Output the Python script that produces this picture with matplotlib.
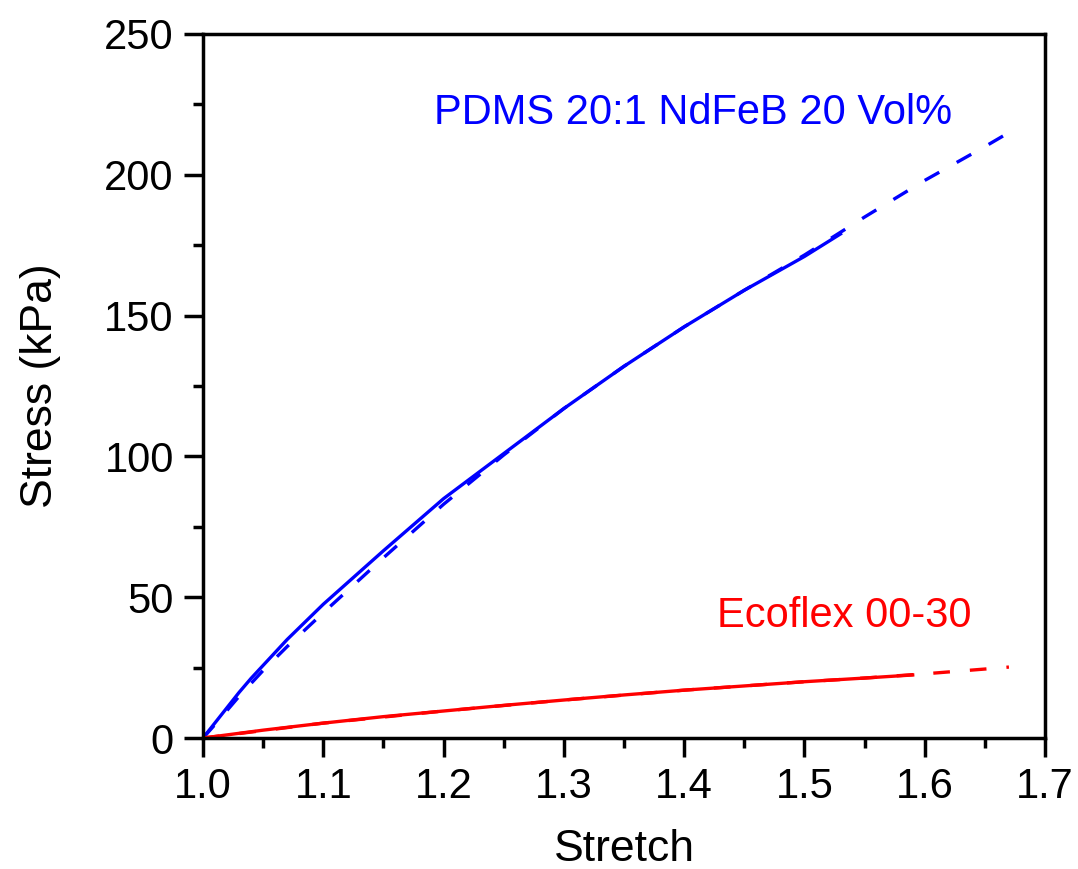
import matplotlib
matplotlib.use("Agg")
import matplotlib.pyplot as plt
import numpy as np

plt.rcParams['font.family'] = ['Liberation Sans', 'DejaVu Sans']

# PDMS 20:1 NdFeB 20 Vol% - experiment (solid)
pdms_x = [1.00, 1.01, 1.02, 1.03, 1.04, 1.05, 1.07, 1.10, 1.15, 1.20, 1.25, 1.30, 1.35, 1.40, 1.45, 1.50, 1.53]
pdms_y = [0.0, 5.4, 10.8, 16.2, 21.2, 25.8, 35.0, 47.5, 66.5, 85.0, 101.0, 117.0, 132.0, 146.0, 159.0, 171.0, 179.0]
# PDMS model (dashed)
pdms_fit_x = [1.00, 1.01, 1.02, 1.03, 1.05, 1.07, 1.10, 1.15, 1.20, 1.25, 1.30, 1.35, 1.40, 1.45, 1.50, 1.55, 1.60, 1.65, 1.67]
pdms_fit_y = [0.0, 4.8, 9.8, 14.8, 24.0, 32.5, 44.5, 64.0, 83.0, 100.5, 117.0, 132.0, 146.0, 159.0, 171.5, 185.0, 198.0, 210.0, 215.0]

# Ecoflex 00-30 - experiment (solid)
eco_x = [1.00, 1.05, 1.10, 1.15, 1.20, 1.25, 1.30, 1.35, 1.40, 1.45, 1.50, 1.55, 1.59]
eco_y = [0.0, 2.8, 5.3, 7.6, 9.6, 11.6, 13.5, 15.3, 17.0, 18.5, 20.0, 21.3, 22.4]
# Ecoflex model (dashed)
eco_fit_x = [1.00, 1.10, 1.20, 1.30, 1.40, 1.50, 1.55, 1.60, 1.65, 1.67]
eco_fit_y = [0.0, 5.3, 9.6, 13.5, 17.0, 20.0, 21.3, 22.8, 24.5, 25.2]

xticks = [1.0, 1.1, 1.2, 1.3, 1.4, 1.5, 1.6, 1.7]
yticks = [0, 50, 100, 150, 200, 250]

fig = plt.figure(figsize=(10.78, 8.69), dpi=100)
ax = fig.add_axes([0.1883, 0.1507, 0.7811, 0.8102])

blue = '#0000FF'
red = '#FF0000'
ax.plot(pdms_fit_x, pdms_fit_y, color=blue, lw=2.4, dashes=(5, 6))
ax.plot(pdms_x, pdms_y, color=blue, lw=2.4)
ax.plot(eco_fit_x, eco_fit_y, color=red, lw=2.4, dashes=(5, 6))
ax.plot(eco_x, eco_y, color=red, lw=2.4)

ax.set_xlim(1.0, 1.7)
ax.set_ylim(0, 250)
ax.set_xticks(xticks)
ax.set_xticklabels([f"{v:.1f}" for v in xticks])
ax.set_yticks(yticks)
ax.set_yticklabels([str(v) for v in yticks])
ax.set_xticks(np.arange(1.05, 1.7, 0.1), minor=True)
ax.set_yticks(np.arange(25, 250, 50), minor=True)

for s in ax.spines.values():
    s.set_linewidth(2.5)
ax.tick_params(which='major', direction='out', length=14, width=2.5, labelsize=30, pad=7,
               top=False, right=False)
ax.tick_params(which='minor', direction='out', length=7, width=2.5, top=False, right=False)

ax.set_xlabel('Stretch', fontsize=32, labelpad=16)
ax.set_ylabel('Stress (kPa)', fontsize=32, labelpad=31)

ax.text(1.192, 222, 'PDMS 20:1 NdFeB 20 Vol%', color=blue, fontsize=30, ha='left', va='center')
ax.text(1.427, 43.5, 'Ecoflex 00-30', color=red, fontsize=30, ha='left', va='center')

fig.savefig('out.png', dpi=100)
